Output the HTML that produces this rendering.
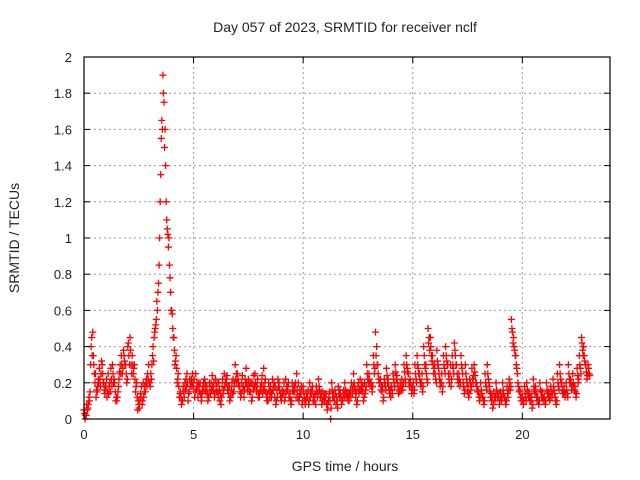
<!DOCTYPE html>
<html><head><meta charset="utf-8"><style>
body{margin:0;background:#fff;}
svg{display:block;font-family:"Liberation Sans",sans-serif;}
</style></head><body>
<svg id="chart" width="640" height="480" xmlns="http://www.w3.org/2000/svg">
<rect width="640" height="480" fill="#fff"/>
<text x="345" y="32" font-size="14" text-anchor="middle" fill="#222">Day 057 of 2023, SRMTID for receiver nclf</text>
<text transform="translate(19,238) rotate(-90)" font-size="14" text-anchor="middle" fill="#222">SRMTID / TECUs</text>
<text x="345" y="471" font-size="14" text-anchor="middle" fill="#222">GPS time / hours</text>
<g id="grid"></g>
<g id="marks"></g>
<rect x="84" y="57" width="526" height="362" fill="none" stroke="#000" stroke-width="1.2"/>
<g id="axes"></g>
</svg>
<script>
const xTicks=[0,5,10,15,20];
const yTicks=[0,0.2,0.4,0.6,0.8,1,1.2,1.4,1.6,1.8,2];
const yTickLabels=["0","0.2","0.4","0.6","0.8","1","1.2","1.4","1.6","1.8","2"];
const valuesA=[.05,.02,.08,.3,.48,.2,.15,.28,.32,.2,
.18,.25,.15,.3,.2,.1,.22,.35,.38,.3,
.4,.45,.35,.3,.2,.08,.12,.2,.15,.25,
.2,.3,.45,.55,.75,1.35,1.9,1.6,1.05,.85,
.6,.45,.35,.25,.15,.1,.2,.25,.15,.22,
.18,.25,.12,.2,.15,.22,.18,.12,.2,.16,
.22,.15,.1,.18,.25,.2,.14,.12,.22,.3,
.25,.18,.2,.12,.28,.22,.15,.2,.25,.18,
.12,.2,.28,.15,.1,.18,.22,.12,.16,.2,
.1,.15,.22,.18,.12,.2,.15,.25,.1,.14,
.18,.08,.12,.2,.15,.1,.18,.22,.12,.15,
.1,.05,.15,.2,.12,.08,.18,.14,.1,.2,
.15,.1,.2,.25,.12,.18,.22,.15,.2,.3,
.25,.2,.35,.48,.3,.2,.15,.22,.28,.18,
.12,.25,.3,.2,.15,.22,.3,.35,.25,.2,
.18,.3,.35,.25,.2,.4,.3,.5,.45,.35,
.3,.38,.25,.2,.35,.4,.3,.25,.35,.42,
.3,.25,.35,.2,.3,.15,.22,.28,.3,.2,
.15,.2,.12,.25,.3,.18,.1,.15,.2,.12,
.15,.2,.12,.18,.22,.55,.45,.35,.2,.15,
.12,.18,.2,.15,.1,.22,.18,.12,.2,.15,
.12,.2,.15,.18,.22,.12,.25,.3,.2,.18,
.2,.3,.22,.25,.18,.28,.35,.45,.4,.3,.3];
const valuesB=[0,.05,.1,.45,.3,.12,.22,.18,.25,.14,
.12,.18,.22,.2,.1,.15,.3,.25,.32,.2,
.35,.3,.25,.15,.05,.1,.08,.15,.22,.3,
.25,.4,.5,.6,1.0,1.65,1.75,1.2,.95,.7,
.5,.3,.2,.12,.08,.15,.22,.1,.18,.25,
.12,.2,.18,.1,.2,.15,.1,.16,.24,.12,
.15,.2,.08,.14,.2,.16,.1,.2,.18,.25,
.2,.12,.16,.22,.18,.15,.1,.24,.18,.12,
.18,.14,.2,.1,.16,.12,.18,.08,.22,.14,
.16,.1,.18,.12,.08,.15,.2,.12,.16,.08,
.12,.14,.08,.16,.1,.14,.12,.16,.08,.1,
.14,.1,0,.12,.16,.1,.12,.08,.16,.12,
.1,.16,.14,.18,.08,.14,.18,.1,.16,.22,
.18,.15,.25,.4,.22,.16,.1,.18,.2,.14,
.16,.2,.22,.14,.18,.16,.22,.28,.18,.14,
.14,.22,.28,.2,.15,.3,.22,.45,.35,.25,
.22,.3,.18,.15,.28,.32,.22,.18,.28,.35,
.22,.18,.28,.14,.22,.12,.16,.2,.24,.15,
.1,.14,.08,.18,.22,.12,.06,.1,.14,.08,
.1,.14,.08,.12,.16,.48,.38,.28,.15,.1,
.08,.12,.14,.1,.06,.16,.12,.08,.15,.1,
.08,.14,.1,.12,.16,.08,.18,.22,.14,.12,
.14,.22,.16,.18,.12,.2,.28,.38,.32,.22,.25];
const valuesC=[.03,.08,.12,.4,.35,.25,.18,.22,.3,.16,
.22,.14,.28,.25,.15,.12,.26,.3,.35,.25,
.42,.38,.3,.22,.12,.06,.18,.12,.2,.22,
.18,.35,.48,.65,.85,1.55,1.8,1.4,1.02,.78,
.58,.38,.28,.18,.12,.18,.16,.2,.22,.18,
.22,.16,.2,.14,.18,.2,.14,.2,.16,.2,
.18,.12,.14,.22,.18,.24,.18,.16,.15,.22,
.22,.15,.24,.16,.2,.18,.2,.16,.2,.22,
.15,.24,.16,.12,.2,.15,.16,.18,.12,.16,
.12,.2,.15,.2,.1,.16,.18,.16,.12,.18,
.15,.1,.16,.12,.18,.12,.15,.18,.14,.12,
.12,.08,.1,.16,.1,.12,.14,.12,.14,.16,
.12,.14,.16,.2,.15,.2,.16,.18,.14,.25,
.22,.18,.3,.35,.25,.22,.18,.2,.24,.16,
.18,.22,.26,.18,.2,.18,.26,.3,.2,.18,
.2,.25,.3,.22,.25,.35,.25,.42,.4,.3,
.25,.32,.22,.25,.3,.35,.25,.3,.3,.38,
.25,.22,.3,.18,.25,.18,.2,.22,.26,.18,
.12,.16,.1,.2,.25,.15,.12,.12,.16,.14,
.12,.16,.1,.14,.2,.5,.4,.3,.18,.12,
.1,.14,.16,.12,.12,.18,.15,.1,.16,.12,
.1,.16,.12,.15,.18,.1,.2,.25,.16,.15,
.16,.25,.2,.2,.15,.24,.3,.42,.35,.26,.28];
const valuesD=[.02,.06,.15,.35,.25,.16,.2,.25,.2,.18,
.15,.2,.18,.22,.12,.18,.25,.28,.3,.22,
.3,.25,.28,.18,.1,.14,.1,.18,.18,.2,
.22,.32,.52,.7,1.2,1.6,1.5,1.1,1.0,.6,
.45,.32,.22,.14,.1,.12,.18,.14,.2,.2,
.15,.18,.15,.12,.16,.18,.12,.14,.18,.14,
.2,.16,.12,.16,.22,.18,.12,.14,.2,.2,
.18,.14,.18,.2,.15,.2,.12,.18,.15,.14,
.16,.18,.22,.14,.12,.14,.2,.1,.18,.12,
.14,.12,.16,.14,.1,.18,.12,.2,.14,.1,
.1,.12,.1,.14,.12,.08,.14,.12,.1,.14,
.08,.12,.06,.14,.14,.06,.16,.1,.12,.14,
.14,.12,.18,.16,.1,.16,.2,.12,.18,.2,
.2,.18,.28,.3,.2,.18,.12,.16,.22,.16,
.14,.18,.24,.16,.16,.2,.2,.26,.22,.16,
.16,.2,.25,.18,.18,.28,.2,.38,.32,.28,
.2,.28,.2,.18,.25,.3,.2,.22,.25,.3,
.2,.2,.25,.16,.2,.14,.18,.24,.2,.16,
.12,.12,.1,.16,.2,.14,.08,.12,.12,.1,
.12,.12,.1,.16,.18,.42,.35,.25,.16,.12,
.1,.1,.12,.12,.08,.14,.1,.1,.12,.12,
.1,.12,.12,.14,.14,.1,.16,.2,.14,.14,
.12,.2,.18,.16,.14,.22,.25,.35,.3,.24,.24];
const timeStep=0.1;
const X0=84,X1=610,Y0=419,Y1=57,XMAX=24,YMAX=2;
function xs(v){return X0+(X1-X0)*v/XMAX;}
function ys(v){return Y0-(Y0-Y1)*v/YMAX;}
const NS="http://www.w3.org/2000/svg";
const grid=document.getElementById('grid'),axes=document.getElementById('axes'),marks=document.getElementById('marks');
function mk(tag,attrs,parent){const e=document.createElementNS(NS,tag);for(const k in attrs)e.setAttribute(k,attrs[k]);parent.appendChild(e);return e;}
xTicks.forEach(t=>{
  const x=xs(t);
  if(t>0){const g=mk('line',{x1:x,x2:x,y1:Y1,y2:Y0,stroke:'#999','stroke-dasharray':'2,3'},grid);
  
  }
  mk('line',{x1:x,x2:x,y1:Y0,y2:Y0-6,stroke:'#000'},axes);
  mk('line',{x1:x,x2:x,y1:Y1,y2:Y1+6,stroke:'#000'},axes);
  const l=mk('text',{x:x,y:Y0+20,'font-size':13,'text-anchor':'middle',fill:'#222'},axes);
  l.textContent=t;
  
  
});
yTicks.forEach((t,i)=>{
  const y=ys(t);
  if(t>0&&t<YMAX){const g=mk('line',{x1:X0,x2:X1,y1:y,y2:y,stroke:'#999','stroke-dasharray':'2,3'},grid);
  
  }
  mk('line',{x1:X0,x2:X0+6,y1:y,y2:y,stroke:'#000'},axes);
  mk('line',{x1:X1,x2:X1-6,y1:y,y2:y,stroke:'#000'},axes);
  const l=mk('text',{x:X0-12,y:y+5,'font-size':13,'text-anchor':'end',fill:'#222'},axes);
  l.textContent=yTickLabels[i];
  
  
});
function plus(t,v){
  const x=xs(t),y=ys(v);
  const p=mk('path',{d:`M${x-3.5} ${y}h7M${x} ${y-3.5}v7`,stroke:'#f00','stroke-width':1.3,fill:'none'},marks);
  
  
}
valuesA.forEach((v,i)=>plus(i*timeStep,v));
valuesC.forEach((v,i)=>plus(i*timeStep+0.025,v));
valuesB.forEach((v,i)=>plus(i*timeStep+0.05,v));
valuesD.forEach((v,i)=>plus(i*timeStep+0.075,v));
</script>
</body></html>
